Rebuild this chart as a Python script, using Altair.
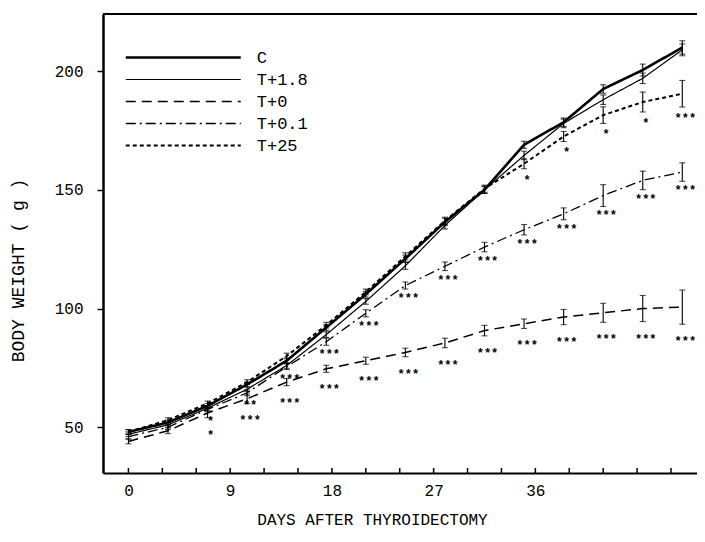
import altair as alt
import pandas as pd

# ---- data ----
days = [0, 3.5, 7, 10.5, 14, 17.5, 21, 24.5, 28, 31.5, 35, 38.5, 42, 45.5, 49]
series_names = ["C", "T+1.8", "T+0", "T+0.1", "T+25"]

c_mean = [48, 52, 59, 68, 78, 92, 106, 121, 136.5, 150, 169, 178.5, 192.5, 200.5, 210]
t18_mean = [47, 51, 58, 66, 76, 89, 103, 118, 135, 150, 164.5, 178, 188, 197, 209]
t0_mean = [44, 48.5, 56, 62, 69, 74.6, 78, 81.5, 85.5, 90.7, 93.6, 96.4, 98.2, 100, 100.6]
t01_mean = [46, 50, 57.5, 64.5, 75.5, 86, 98, 109.7, 117.8, 125.9, 133.2, 139.9, 147.6, 154, 157.5]
t25_mean = [48, 53, 60, 69, 80, 93, 107, 122, 137, 150.5, 161, 172.5, 181.5, 187, 190.5]

c_sem = [1, 1, 1, 1, 1.2, 1.2, 1.2, 1.5, 1.5, 1.5, 1.5, 1.8, 1.8, 2.5, 2.8]
t18_sem = [1, 1, 1, 1, 1.2, 1.2, 1.2, 1.5, 1.5, 1.5, 1.8, 1.8, 2, 2.2, 2.5]
t0_sem = [1, 1.2, 2, 2, 1.5, 1.5, 1.5, 1.8, 2, 2.2, 2, 3.2, 4, 5.5, 7.2]
t01_sem = [1, 1, 1, 1.2, 1.2, 1.5, 1.5, 1.5, 1.8, 2, 2.2, 2.5, 4.6, 3.9, 3.9]
t25_sem = [1, 1, 1, 1, 1.2, 1.2, 1.2, 1.5, 1.5, 1.5, 2.1, 2.1, 3.5, 4.2, 5.6]

star_day = [7, 10.5, 14, 17.5, 21, 24.5, 28, 31.5, 35, 38.5, 42, 45.5, 49]
star_label_t01 = ["*", "**", "***", "***", "***", "***", "***", "***", "***", "***", "***", "***", "***"]
star_label_t0 = ["*", "***", "***", "***", "***", "***", "***", "***", "***", "***", "***", "***", "***"]
star_day_t25 = [35, 38.5, 42, 45.5, 49]
star_label_t25 = ["*", "*", "*", "*", "***"]

x_tick_values = [0, 3, 6, 9, 12, 15, 18, 21, 24, 27, 30, 33, 36, 39, 42, 45, 48]
x_label_values = [0, 9, 18, 27, 36]
y_label_values = [50, 100, 150, 200]

# ---- tables ----
means = {"C": c_mean, "T+1.8": t18_mean, "T+0": t0_mean, "T+0.1": t01_mean, "T+25": t25_mean}
sems = {"C": c_sem, "T+1.8": t18_sem, "T+0": t0_sem, "T+0.1": t01_sem, "T+25": t25_sem}
rows = []
for s in series_names:
    for d, m, e in zip(days, means[s], sems[s]):
        rows.append({"series": s, "day": d, "bw": m, "lo": m - e, "hi": m + e})
df = pd.DataFrame(rows)


def star_table(s, dlist, llist):
    out = []
    for d, lab in zip(dlist, llist):
        lo = df[(df.series == s) & (df.day == d)]["lo"].iloc[0]
        out.append({"series": s, "day": d, "bw": lo, "label": lab})
    return pd.DataFrame(out)


stars_t01 = star_table("T+0.1", star_day, star_label_t01)
stars_t0 = star_table("T+0", star_day, star_label_t0)
stars_t25 = star_table("T+25", star_day_t25, star_label_t25)
ticks_df = pd.DataFrame({"day": x_tick_values})

W, H = 594, 459
FONT = "Liberation Mono"
xs = alt.Scale(domain=[-2.25, 50.3], nice=False, zero=False)
ys = alt.Scale(domain=[30.7, 224.1], nice=False, zero=False)

xaxis = alt.Axis(values=x_label_values, title="DAYS AFTER THYROIDECTOMY",
                 ticks=False, grid=False, domainColor="black", domainWidth=2,
                 labelFont=FONT, labelFontSize=16, labelColor="black",
                 labelPadding=9, titleFont=FONT, titleFontSize=16,
                 titleFontWeight="normal", titleColor="black",
                 titleX=269, titleY=46, titleBaseline="middle", titleAlign="center")
yaxis = alt.Axis(values=y_label_values, title="BODY WEIGHT ( g )",
                 grid=False, tickSize=6, tickWidth=1.5, tickColor="black",
                 domainColor="black", domainWidth=2.5,
                 labelFont=FONT, labelFontSize=16, labelColor="black",
                 labelPadding=14, titleFont=FONT, titleFontSize=18,
                 titleFontWeight="normal", titleColor="black",
                 titleX=-85, titleY=256, titleBaseline="middle", titleAlign="center")

X = alt.X("day:Q", scale=xs, axis=xaxis)

dash_range = [[1, 0], [1, 0], [10, 6], [10, 4, 2, 4], [4, 3]]
width_range = [2.6, 1.2, 1.5, 1.3, 2.0]

leg = alt.Legend(title=None, orient="none", legendX=71.75, legendY=35, padding=0,
                 symbolType="M-10,0H10", symbolSize=132.25, symbolStrokeColor="black",
                 labelFont=FONT, labelFontSize=17, labelColor="black",
                 labelOffset=65, rowPadding=4)

lines = alt.Chart(df).mark_line(color="black").encode(
    x=X,
    y=alt.Y("bw:Q", scale=ys, axis=yaxis),
    strokeDash=alt.StrokeDash("series:N", scale=alt.Scale(type="ordinal", domain=series_names, range=dash_range), legend=leg),
    strokeWidth=alt.StrokeWidth("series:N", scale=alt.Scale(type="ordinal", domain=series_names, range=width_range), legend=leg),
)

bars = alt.Chart(df).mark_rule(color="black", strokeWidth=1.1).encode(
    x=X,
    y=alt.Y("lo:Q", scale=ys, axis=yaxis),
    y2="hi:Q",
)
cap_lo = alt.Chart(df).mark_tick(color="black", orient="horizontal", size=6, thickness=1.1).encode(
    x=X,
    y=alt.Y("lo:Q", scale=ys, axis=yaxis),
)
cap_hi = alt.Chart(df).mark_tick(color="black", orient="horizontal", size=6, thickness=1.1).encode(
    x=X,
    y=alt.Y("hi:Q", scale=ys, axis=yaxis),
)


def star_layer(data, dy):
    return alt.Chart(data).mark_text(color="black", font=FONT, fontSize=12, fontWeight="bold",
                                     baseline="middle", align="center", dx=3, dy=dy).encode(
        x=X,
        y=alt.Y("bw:Q", scale=ys, axis=yaxis),
        text="label:N",
    )


xticks = alt.Chart(ticks_df).mark_rule(color="black", strokeWidth=1.5).encode(
    x=X,
    y=alt.value(H),
    y2=alt.value(H - 5),
)
top_border = alt.Chart(ticks_df).mark_rule(color="black", strokeWidth=2).encode(
    x=alt.value(0), x2=alt.value(W), y=alt.value(0),
)

chart = alt.layer(lines, bars, cap_lo, cap_hi,
                  star_layer(stars_t01, 9), star_layer(stars_t0, 17), star_layer(stars_t25, 11),
                  xticks, top_border).properties(
    width=W, height=H,
    autosize=alt.AutoSizeParams(type="none"),
    padding={"left": 95, "top": 6, "right": 0, "bottom": 60},
    background="white",
).configure_view(stroke=None)

chart.save("out.html", embed_options={"renderer": "svg", "actions": False})
